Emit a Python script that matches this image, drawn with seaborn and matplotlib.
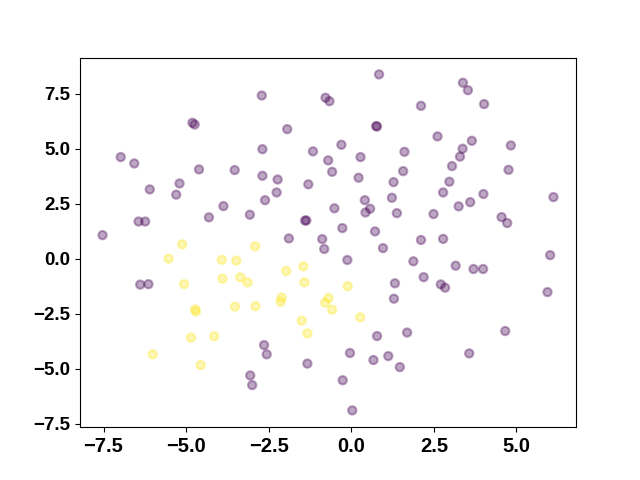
import numpy as np
import pandas as pd
import matplotlib
matplotlib.use("Agg")
import matplotlib.pyplot as plt
from matplotlib.ticker import MultipleLocator
import seaborn as sns

# ==============================
# DATA
# ==============================
purple_x = [-4.81, -4.74, -6.98, -6.57, -4.61, -3.53, -5.20, -6.10, -5.30, -3.87,
            -4.31, -3.07, -6.44, -6.24, -7.53, 0.84, -2.71, -0.78, -0.66, 2.11,
            -1.94, 0.75, 0.78, -2.69, -1.16, -0.30, -0.70, 0.28, 1.61, -0.58,
            1.57, -2.69, -2.23, -1.30, 0.22, 1.28, -2.26, -2.61, 0.41, 1.23,
            -0.51, 0.57, 0.43, 1.38, -1.40, -1.36, -0.27, 0.72, -1.89, -0.88,
            -0.82, 0.96, 2.11, 3.38, 3.53, 4.02, 2.61, 3.65, 3.37, 4.83,
            3.29, 3.05, 4.76, 2.97, 2.78, 4.00, 6.12, 3.25, 3.60, 2.49,
            4.55, 4.72, 2.78, 6.02, 1.88, 3.16, 3.70, 3.99, 2.19, 2.71,
            2.84, 5.94, 4.66, 3.57, -0.12, 1.32, 1.29, 0.78, 1.69, -2.64,
            -2.56, -0.04, 0.67, 1.12, 1.47, -1.33, -3.06, -3.00, -0.26, 0.03,
            -6.39, -6.14]
purple_y = [6.19, 6.11, 4.63, 4.34, 4.07, 4.04, 3.43, 3.16, 2.92, 2.40,
            1.89, 2.01, 1.70, 1.70, 1.08, 8.39, 7.43, 7.33, 7.17, 6.96,
            5.90, 6.04, 6.02, 4.99, 4.89, 5.19, 4.48, 4.63, 4.87, 3.96,
            3.99, 3.78, 3.61, 3.39, 3.69, 3.49, 3.02, 2.67, 2.67, 2.78,
            2.30, 2.28, 2.11, 2.08, 1.74, 1.75, 1.40, 1.25, 0.93, 0.90,
            0.45, 0.49, 0.86, 8.01, 7.67, 7.04, 5.57, 5.37, 5.01, 5.16,
            4.65, 4.22, 4.05, 3.51, 3.02, 2.95, 2.81, 2.39, 2.58, 2.04,
            1.90, 1.63, 0.91, 0.17, -0.11, -0.31, -0.46, -0.46, -0.83, -1.16,
            -1.31, -1.51, -3.28, -4.30, -0.05, -1.11, -1.81, -3.51, -3.35, -3.92,
            -4.34, -4.28, -4.60, -4.42, -4.92, -4.76, -5.30, -5.74, -5.52, -6.89,
            -1.17, -1.15]

yellow_x = [-5.12, -2.91, -5.53, -3.92, -3.48, -5.06, -3.90, -3.36, -3.14, -4.73,
            -4.70, -3.52, -2.90, -4.85, -4.15, -6.01, -4.56, -1.45, -1.97, -1.42,
            -0.11, -2.11, -2.14, -0.69, -0.79, -0.58, 0.27, -1.50, -1.33]
yellow_y = [0.66, 0.57, 0.01, -0.04, -0.08, -1.15, -0.90, -0.84, -1.07, -2.30,
            -2.39, -2.17, -2.15, -3.58, -3.52, -4.34, -4.83, -0.34, -0.55, -1.07,
            -1.24, -1.76, -1.95, -1.78, -1.99, -2.31, -2.66, -2.81, -3.39]

df = pd.DataFrame({
    "x": purple_x + yellow_x,
    "y": purple_y + yellow_y,
    "label": [0] * len(purple_x) + [1] * len(yellow_x),
})

# ==============================
# PLOT
# ==============================
fig, ax = plt.subplots(figsize=(6.4, 4.8), dpi=100)
sns.scatterplot(data=df, x="x", y="y", hue="label",
                palette={0: "#440154", 1: "#fde725"},
                s=36, alpha=0.35, edgecolor="face", linewidth=1.5,
                legend=False, ax=ax)
ax.set_xlabel("")
ax.set_ylabel("")
ax.xaxis.set_major_locator(MultipleLocator(2.5))
ax.yaxis.set_major_locator(MultipleLocator(2.5))
fig.canvas.draw()

for lab in ax.get_xticklabels():
    lab.set_fontfamily("Liberation Sans")
    lab.set_fontweight("bold")
    lab.set_fontsize(14.5)
for lab in ax.get_yticklabels():
    lab.set_fontfamily("Liberation Sans")
    lab.set_fontweight("bold")
    lab.set_fontsize(13.5)

fig.savefig("out.png", dpi=100)
